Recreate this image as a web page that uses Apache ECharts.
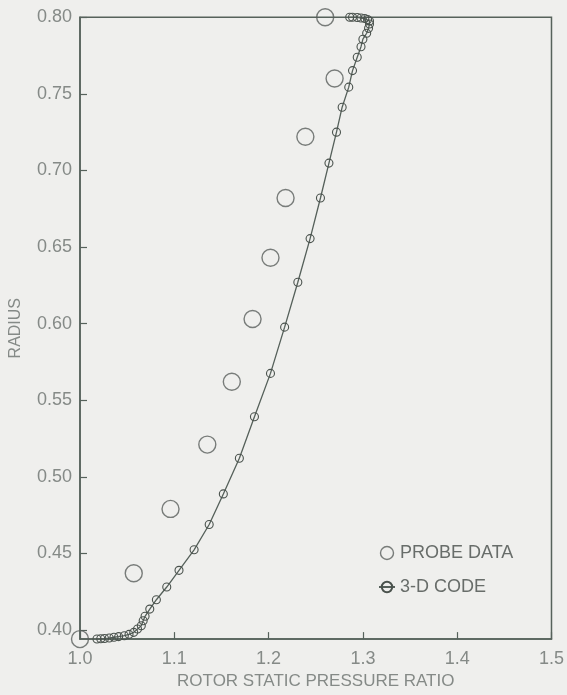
<!DOCTYPE html>
<html>
<head>
<meta charset="utf-8">
<script src="https://cdn.jsdelivr.net/npm/echarts@6/dist/echarts.min.js"></script>
<style>
html,body{margin:0;padding:0;background:#efefed;}
#chart{width:567px;height:695px;}
</style>
</head>
<body>
<div id="chart"></div>
<script>
// Probe data (pressure ratio, radius)
const probeRatio  = [1.260, 1.270, 1.239, 1.218, 1.202, 1.183, 1.161, 1.135, 1.096, 1.057, 1.000];
const probeRadius = [0.800, 0.760, 0.722, 0.682, 0.643, 0.603, 0.562, 0.521, 0.479, 0.437, 0.394];

// 3-D code results (pressure ratio, radius)
const codeRatio = [
  1.018, 1.022, 1.026, 1.031, 1.036, 1.041, 1.047, 1.052, 1.057, 1.061,
  1.065, 1.067, 1.069, 1.074, 1.081, 1.092, 1.105, 1.121, 1.137, 1.152,
  1.169, 1.185, 1.202, 1.217, 1.231, 1.244, 1.255, 1.264, 1.272, 1.278,
  1.285, 1.289, 1.294, 1.298, 1.300, 1.304, 1.306, 1.307, 1.307, 1.305,
  1.302, 1.298, 1.294, 1.289, 1.286
];
const codeRadius = [
  0.3941, 0.3942, 0.3944, 0.3947, 0.3952, 0.3956, 0.3962, 0.3971, 0.3984, 0.4006,
  0.4027, 0.4060, 0.4089, 0.4136, 0.4197, 0.4280, 0.4389, 0.4523, 0.4688, 0.4888,
  0.5121, 0.5392, 0.5675, 0.5977, 0.6270, 0.6555, 0.6820, 0.7048, 0.7250, 0.7413,
  0.7544, 0.7652, 0.7739, 0.7808, 0.7857, 0.7896, 0.7928, 0.7956, 0.7976, 0.7986,
  0.7992, 0.7995, 0.7999, 0.8000, 0.8000
];

// Axis ticks
const xTicks = [1.0, 1.1, 1.2, 1.3, 1.4, 1.5];
const yTicks = [0.40, 0.45, 0.50, 0.55, 0.60, 0.65, 0.70, 0.75, 0.80];

const seriesNames = ['PROBE DATA', '3-D CODE'];
const xTitle = 'ROTOR STATIC PRESSURE RATIO';
const yTitle = 'RADIUS';

const probeData = probeRatio.map((v, i) => [v, probeRadius[i]]);
const codeData = codeRatio.map((v, i) => [v, codeRadius[i]]);

const lineCol = '#56625b';
const textCol = '#858a87';
const font = 'Liberation Sans, Arial, sans-serif';

const chart = echarts.init(document.getElementById('chart'), null, {renderer: 'canvas'});
chart.setOption({
  backgroundColor: '#efefed',
  animation: false,
  grid: {
    left: 79.3, right: 15.2, top: 17.3, bottom: 55,
    show: true, borderColor: lineCol, borderWidth: 1.5, backgroundColor: 'transparent'
  },
  legend: {
    orient: 'vertical',
    left: 373, top: 539,
    itemWidth: 16, itemHeight: 13, itemGap: 16,
    textStyle: {color: '#686d6a', fontSize: 18, fontFamily: font},
    data: [
      {name: seriesNames[0], icon: 'circle',
        itemStyle: {color: 'rgba(0,0,0,0)', borderColor: '#5a5f5c', borderWidth: 1.4}},
      {name: seriesNames[1]}
    ]
  },
  xAxis: {
    type: 'value',
    min: xTicks[0], max: xTicks[xTicks.length - 1], interval: 0.1,
    name: xTitle, nameLocation: 'middle', nameGap: 33,
    nameTextStyle: {color: textCol, fontSize: 17, fontFamily: font},
    axisLine: {show: true, onZero: false, lineStyle: {color: lineCol, width: 1.5}},
    axisTick: {show: true, inside: true, length: 7, lineStyle: {color: lineCol, width: 1.2}},
    axisLabel: {color: textCol, fontSize: 18, fontFamily: font, margin: 11,
      formatter: v => v.toFixed(1)},
    splitLine: {show: false}
  },
  yAxis: {
    type: 'value',
    min: 0.394, max: 0.80,
    name: yTitle, nameLocation: 'middle', nameGap: 56, nameRotate: 90,
    nameTextStyle: {color: textCol, fontSize: 16, fontFamily: font},
    axisLine: {show: true, onZero: false, lineStyle: {color: lineCol, width: 1.5}},
    axisTick: {show: true, inside: true, length: 7, customValues: yTicks,
      lineStyle: {color: lineCol, width: 1.2}},
    axisLabel: {color: textCol, fontSize: 18, fontFamily: font, margin: 8,
      customValues: yTicks, formatter: v => v.toFixed(2)},
    splitLine: {show: false}
  },
  series: [
    {
      name: seriesNames[0],
      type: 'scatter',
      data: probeData,
      clip: false,
      symbol: 'circle',
      symbolSize: 17,
      itemStyle: {color: 'rgba(0,0,0,0)', borderColor: '#5a5f5c', borderWidth: 1.4}
    },
    {
      name: seriesNames[1],
      type: 'line',
      data: codeData,
      clip: false,
      symbol: 'circle',
      symbolSize: 8,
      showAllSymbol: true,
      lineStyle: {color: '#55605a', width: 1.3},
      itemStyle: {color: 'rgba(0,0,0,0)', borderColor: '#4a524d', borderWidth: 1.1}
    }
  ]
});
</script>
</body>
</html>
